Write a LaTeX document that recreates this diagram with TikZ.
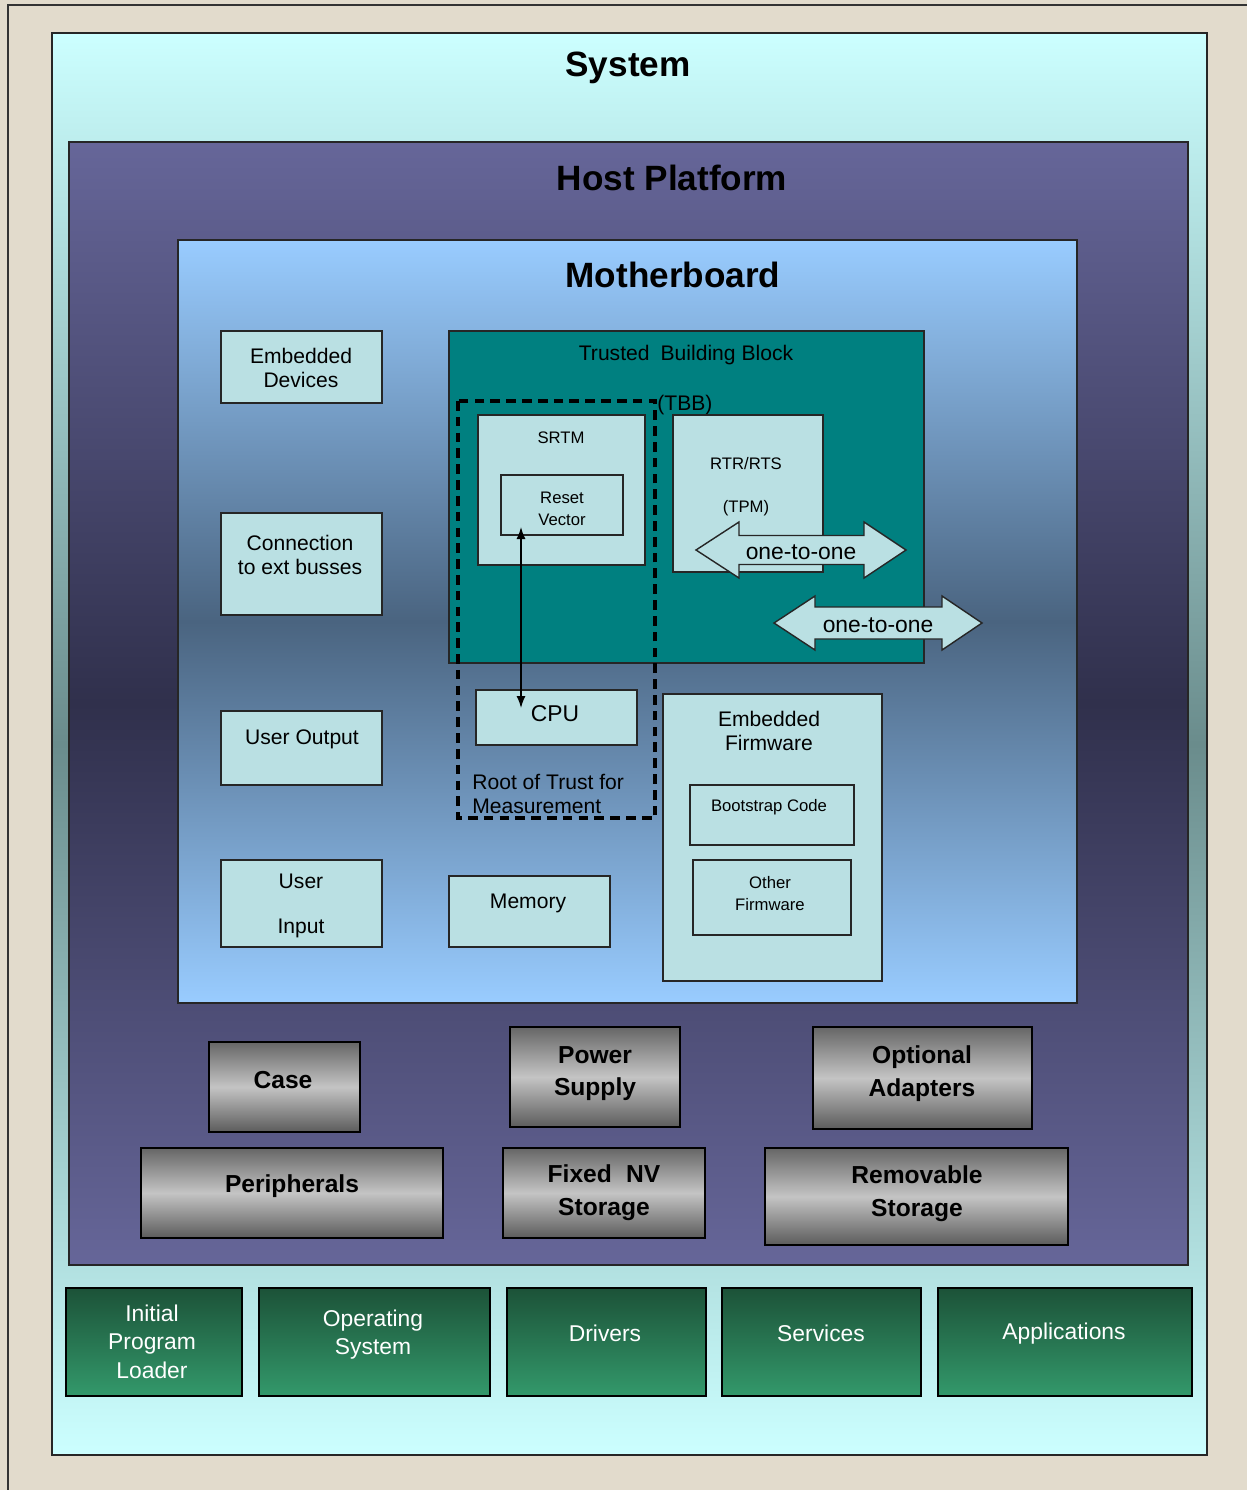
\documentclass[tikz,border=0pt]{standalone}
\usepackage{fontspec}
\setmainfont{Liberation Sans}
\usetikzlibrary{fit,arrows.meta}

\definecolor{paper}{HTML}{E2DBCC}
\definecolor{systop}{HTML}{CCFFFF}
\definecolor{sysmid}{HTML}{6A8C8C}
\definecolor{hosttop}{HTML}{666699}
\definecolor{hostmid}{HTML}{30304C}
\definecolor{mbtop}{HTML}{99CCFF}
\definecolor{mbmid}{HTML}{4A6480}
\definecolor{partfill}{HTML}{BAE0E3}
\definecolor{tbbfill}{HTML}{008080}
\definecolor{hwtop}{HTML}{666666}
\definecolor{hwmid}{HTML}{C4C4C4}
\definecolor{swtop}{HTML}{1C5238}
\definecolor{swbot}{HTML}{33996B}

\tikzset{
  layer/.style={draw=black!85, line width=0.9pt, inner sep=0pt},
  partbox/.style={draw=black!85, line width=0.8pt, fill=partfill, inner sep=0pt},
  hwbox/.style={draw=black, line width=1.1pt, top color=hwtop, bottom color=hwtop!90!black, middle color=hwmid, inner sep=0pt},
  swbox/.style={draw=black, line width=1.1pt, top color=swtop, bottom color=swbot, inner sep=0pt},
  title/.style={font=\fontsize{20}{24}\selectfont\bfseries, yshift=-1.8pt},
  lbl/.style={font=\fontsize{12}{13.6}\selectfont, align=center, inner sep=0pt, yshift=-1.2pt},
  sml/.style={font=\fontsize{9.5}{12.5}\selectfont, align=center, inner sep=0pt, yshift=-0.8pt},
  hwtxt/.style={font=\fontsize{14}{18.7}\selectfont\bfseries, align=center, inner sep=0pt, yshift=-1.5pt},
  swtxt/.style={font=\fontsize{13}{16.4}\selectfont, text=white, align=center, inner sep=0pt, yshift=-1.5pt},
  onearrow/.style={draw=black!85, line width=0.8pt, fill=partfill},
  link/.style={line width=0.8pt, {Latex[length=2.4mm,width=1.8mm]}-{Latex[length=2.4mm,width=1.8mm]}}
}

\begin{document}
\begin{tikzpicture}[x=0.02cm, y=-0.02cm]
  \useasboundingbox (0,0) rectangle (1247,1490);
  \fill[paper] (0,0) rectangle (1247,1490);
  \draw[line width=1pt, black!80] (8,1490) -- (8,5) -- (1247,5);

  % nested layers
  \node[layer, top color=systop, bottom color=systop, middle color=sysmid, fit={(52,33) (1207,1455)}] (system) {};
  \node[layer, top color=hosttop, bottom color=hosttop, middle color=hostmid, fit={(69,142) (1188,1265)}] (host) {};
  \node[layer, top color=mbtop, bottom color=mbtop, middle color=mbmid, fit={(178,240) (1077,1003)}] (mboard) {};

  \node[title] (systitle)  at (628,65)  {System};
  \node[title] (hosttitle) at (672,175) {Host Platform};
  \node[title] (mbtitle)   at (673,272) {Motherboard};

  % left column
  \node[partbox, fit={(221,331) (382,403)}] (embdev) {};
  \node[partbox, fit={(221,513) (382,615)}] (extbus) {};
  \node[partbox, fit={(221,711) (382,785)}] (usrout) {};
  \node[partbox, fit={(221,860) (382,947)}] (usrin) {};
  \node[lbl] at (301,366) {Embedded\\Devices};
  \node[lbl] at (300,553) {Connection\\to ext busses};
  \node[lbl] at (302,737) {User Output};
  \node[lbl] at (301,904) {User\\[12pt]Input};

  % trusted building block
  \node[layer, fill=tbbfill, fit={(449,331) (924,663)}] (tbb) {};
  \node[lbl] at (686,353) {Trusted\hspace{0.25em} Building Block};
  \node[lbl, anchor=west] at (657,403) {(TBB)};

  \node[partbox, fit={(478,415) (645,565)}] (srtm) {};
  \node[sml] at (561,436) {SRTM};
  \node[partbox, fit={(501,475) (623,535)}] (rstvec) {};
  \node[sml] at (562,507) {Reset\\Vector};

  \node[partbox, fit={(673,415) (823,572)}] (rtr) {};
  \node[sml] at (746,485) {RTR/RTS\\[12pt](TPM)};

  \draw[onearrow] (696,550) -- (739,522) -- (739,535.5) -- (864,535.5) -- (864,522) -- (906,550)
    -- (864,578) -- (864,564.5) -- (739,564.5) -- (739,578) -- cycle;
  \node[lbl, font=\fontsize{13}{15}\selectfont] (o2o1) at (801,550) {one-to-one};
  \draw[onearrow] (774,623) -- (815,596) -- (815,607) -- (942,607) -- (942,596) -- (982,623)
    -- (942,650) -- (942,639) -- (815,639) -- (815,650) -- cycle;
  \node[lbl, font=\fontsize{13}{15}\selectfont] (o2o2) at (878,623) {one-to-one};

  % root of trust for measurement
  \draw[line width=1.8pt, dash pattern=on 5.5pt off 3.5pt] (458,401) rectangle (655,818);
  \node[partbox, fit={(476,690) (637,745)}] (cpu) {};
  \node[lbl, font=\fontsize{13}{15}\selectfont] at (555,712) {CPU};
  \node[lbl, align=left, anchor=west] at (472,792) {Root of Trust for\\Measurement};

  \coordinate (rvtip) at (521,527);
  \coordinate (cpuend) at (521,708);
  \draw[link] (rvtip) -- (cpuend);

  % memory and firmware
  \node[partbox, fit={(449,876) (610,947)}] (memory) {};
  \node[lbl] at (528,901) {Memory};
  \node[partbox, fit={(663,694) (882,981)}] (embfw) {};
  \node[lbl] at (769,729) {Embedded\\Firmware};
  \node[partbox, fit={(690,785) (854,845)}] (boot) {};
  \node[sml] at (769,806) {Bootstrap Code};
  \node[partbox, fit={(693,860) (851,935)}] (otherfw) {};
  \node[sml] at (770,892) {Other\\Firmware};

  % platform hardware
  \node[hwbox, fit={(209,1042) (360,1132)}] (case) {};
  \node[hwbox, fit={(510,1027) (680,1127)}] (power) {};
  \node[hwbox, fit={(813,1027) (1032,1129)}] (adapt) {};
  \node[hwbox, fit={(141,1148) (443,1238)}] (periph) {};
  \node[hwbox, fit={(503,1148) (705,1238)}] (fixnv) {};
  \node[hwbox, fit={(765,1148) (1068,1245)}] (remst) {};
  \node[hwtxt] at (283,1077) {Case};
  \node[hwtxt] at (595,1071) {Power\\Supply};
  \node[hwtxt] at (922,1071) {Optional\\Adapters};
  \node[hwtxt] at (292,1183) {Peripherals};
  \node[hwtxt] at (604,1190) {Fixed\hspace{0.3em} NV\\Storage};
  \node[hwtxt] at (917,1191) {Removable\\Storage};

  % software
  \node[swbox, fit={(66,1288) (242,1396)}] (ipl) {};
  \node[swbox, fit={(259,1288) (490,1396)}] (os) {};
  \node[swbox, fit={(507,1288) (706,1396)}] (drivers) {};
  \node[swbox, fit={(722,1288) (921,1396)}] (services) {};
  \node[swbox, fit={(938,1288) (1192,1396)}] (apps) {};
  \node[swtxt] at (152,1339) {Initial\\Program\\Loader};
  \node[swtxt] at (373,1332) {Operating\\System};
  \node[swtxt] at (605,1331) {Drivers};
  \node[swtxt] at (821,1331) {Services};
  \node[swtxt] at (1064,1331) {Applications};
\end{tikzpicture}
\end{document}
